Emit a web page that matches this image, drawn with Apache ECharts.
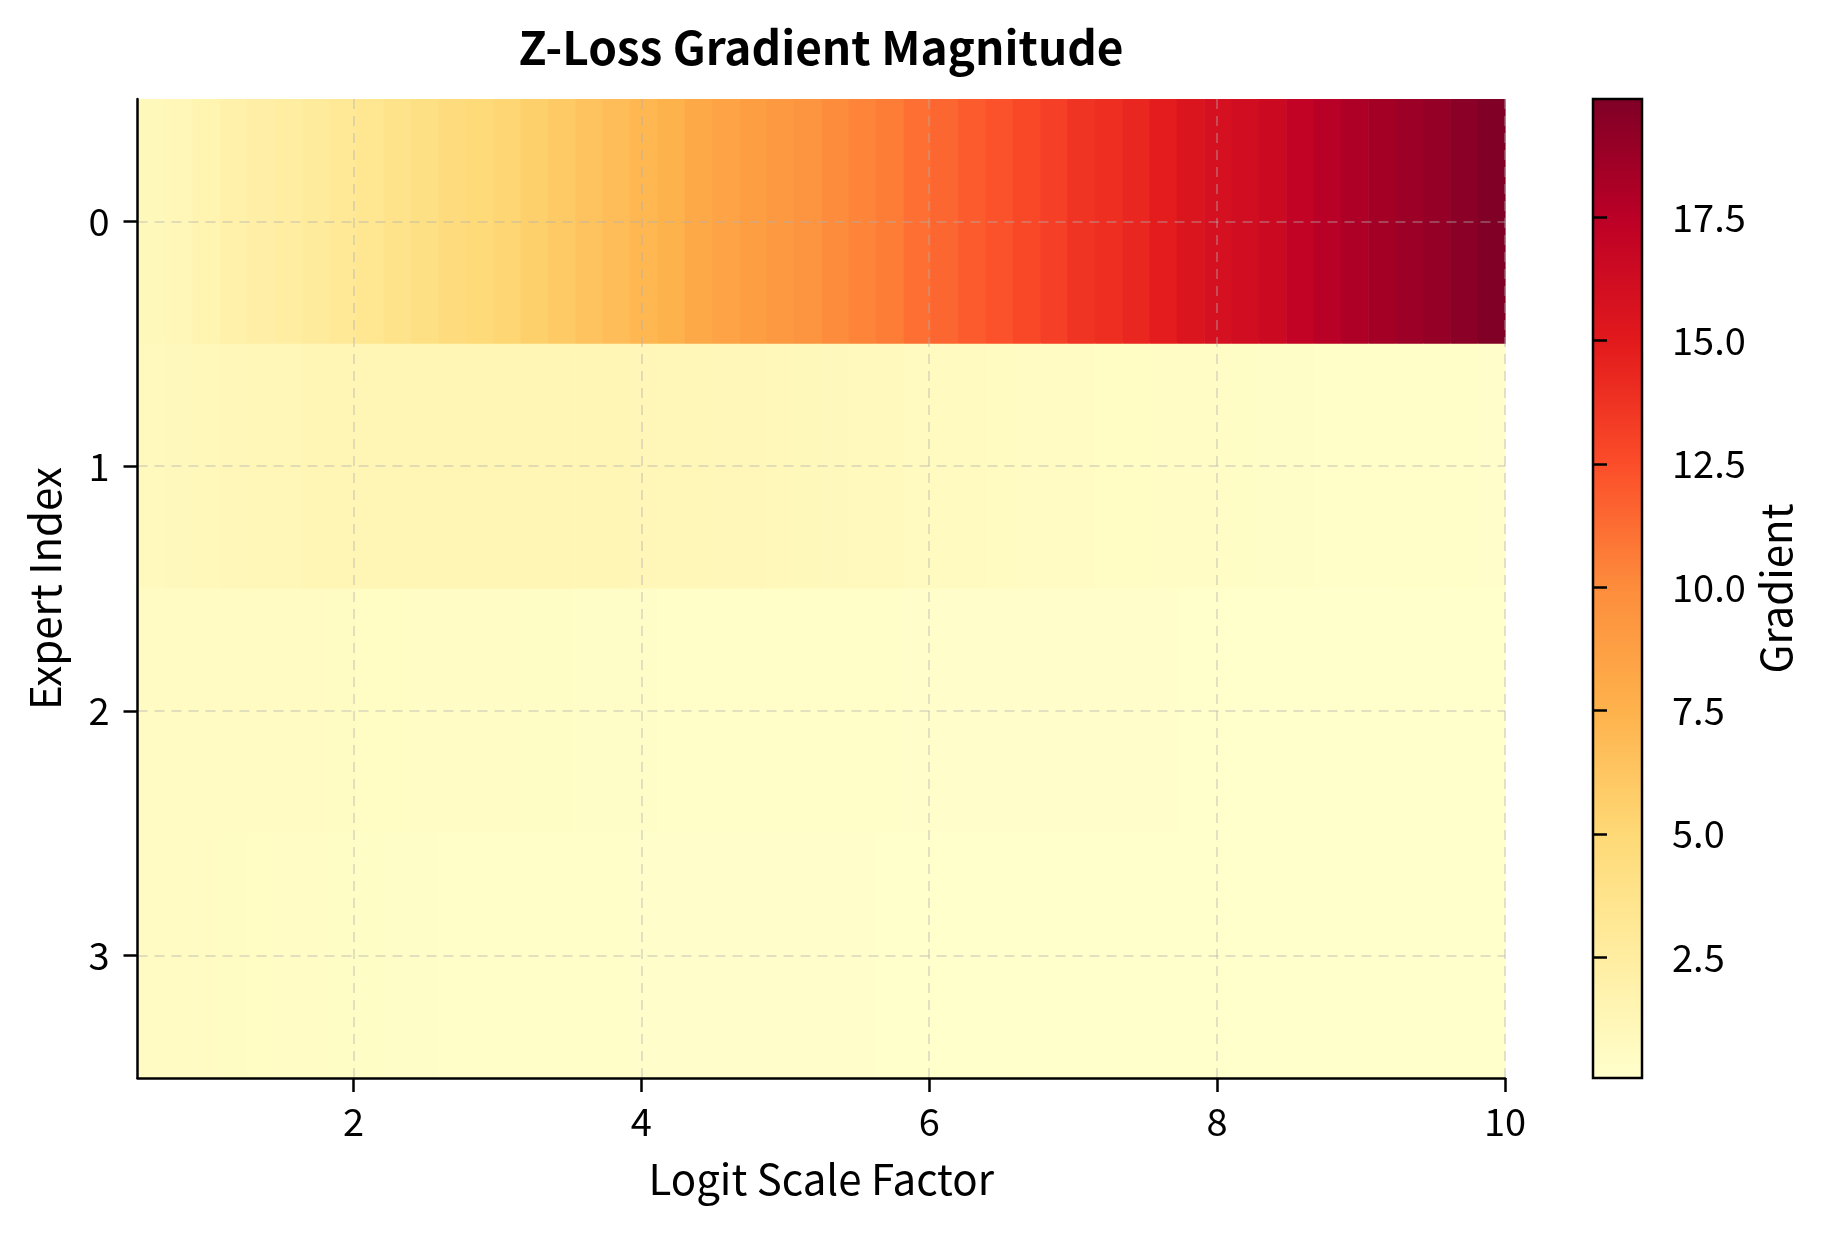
<!DOCTYPE html>
<html>
<head>
<meta charset="utf-8">
<title>Z-Loss Gradient Magnitude</title>
<script src="https://cdn.jsdelivr.net/npm/echarts@6/dist/echarts.min.js"></script>
<style>
  html, body { margin: 0; padding: 0; background: #fff; }
  #main { width: 1831px; height: 1234px; }
</style>
</head>
<body>
<div id="main"></div>
<script>
//---------------------------------= data =---------------------------------
var scaleExtent = [0.5, 10];          // logit scale factor, left and right edge of the image
var expertIndex = [0, 1, 2, 3];
var xTicks = [2, 4, 6, 8, 10];
var cbarTicks = [2.5, 5, 7.5, 10, 12.5, 15, 17.5];
var colorRange = [0.05, 19.9];

// one value per column (50 columns) for every expert
var expert0 = [1.02, 1.18, 1.62, 2.02, 2.22, 2.41, 2.75, 3.11, 3.41, 3.77,
               4.16, 4.58, 4.88, 5.18, 5.59, 5.99, 6.39, 6.77, 7.18, 7.48,
               8.08, 8.42, 8.83, 9.15, 9.49, 9.97, 10.32, 10.6, 11.16, 11.5,
               11.93, 12.29, 12.73, 13.16, 13.69, 13.98, 14.36, 14.83, 15.45, 15.85,
               16.15, 16.5, 17.1, 17.6, 18.03, 18.43, 18.77, 19.09, 19.44, 19.9];
var expert1 = [0.85, 0.98, 1.06, 1.12, 1.17, 1.22, 1.27, 1.31, 1.34, 1.37,
               1.39, 1.40, 1.40, 1.39, 1.38, 1.36, 1.33, 1.30, 1.26, 1.22,
               1.18, 1.13, 1.09, 1.04, 1.00, 0.95, 0.90, 0.85, 0.80, 0.76,
               0.71, 0.67, 0.63, 0.59, 0.56, 0.52, 0.49, 0.46, 0.43, 0.40,
               0.37, 0.34, 0.32, 0.30, 0.28, 0.26, 0.24, 0.22, 0.20, 0.19];
var expert2 = [0.62, 0.64, 0.64, 0.63, 0.58, 0.57, 0.55, 0.53, 0.51, 0.49,
               0.47, 0.46, 0.44, 0.40, 0.39, 0.37, 0.35, 0.33, 0.32, 0.30,
               0.29, 0.27, 0.26, 0.25, 0.24, 0.22, 0.21, 0.20, 0.19, 0.18,
               0.17, 0.16, 0.15, 0.14, 0.14, 0.13, 0.12, 0.12, 0.11, 0.11,
               0.10, 0.10, 0.09, 0.09, 0.09, 0.08, 0.08, 0.08, 0.07, 0.07];
var expert3 = [0.55, 0.55, 0.54, 0.53, 0.52, 0.44, 0.42, 0.39, 0.37, 0.35,
               0.33, 0.30, 0.28, 0.26, 0.24, 0.23, 0.21, 0.20, 0.19, 0.18,
               0.17, 0.16, 0.15, 0.14, 0.13, 0.12, 0.12, 0.11, 0.10, 0.10,
               0.09, 0.09, 0.08, 0.08, 0.08, 0.07, 0.07, 0.07, 0.06, 0.06,
               0.06, 0.06, 0.05, 0.05, 0.05, 0.05, 0.05, 0.05, 0.05, 0.05];

// YlOrRd
var ylOrRd = ['#ffffcc', '#ffeda0', '#fed976', '#feb24c', '#fd8d3c',
              '#fc4e2a', '#e31a1c', '#bd0026', '#800026'];

//---------------------------------= build cells =---------------------------------
var rows = [expert0, expert1, expert2, expert3];
var nCols = expert0.length;
var step = (scaleExtent[1] - scaleExtent[0]) / nCols;
var cells = [];
expertIndex.forEach(function (r) {
  rows[r].forEach(function (v, i) {
    var x0 = scaleExtent[0] + i * step;
    cells.push([x0, x0 + step, r, v]);
  });
});

var font = 'Noto Sans CJK SC';
var grid0 = { left: 137.5, top: 99, width: 1367.5, height: 979 };
var grid1 = { left: 1593, top: 99, width: 49, height: 979 };

function renderCell(params, api) {
  var p0 = api.coord([api.value(0), api.value(2) - 0.5]);
  var p1 = api.coord([api.value(1), api.value(2) + 0.5]);
  return {
    type: 'rect',
    shape: {
      x: Math.min(p0[0], p1[0]),
      y: Math.min(p0[1], p1[1]),
      width: Math.abs(p1[0] - p0[0]) + 0.6,
      height: Math.abs(p1[1] - p0[1]) + 0.6
    },
    style: { fill: api.visual('color') }
  };
}

function renderColorbar(params, api) {
  var p0 = api.coord([0, api.value(2)]);
  var p1 = api.coord([1, api.value(3)]);
  var shape = { x: p0[0], y: p1[1], width: p1[0] - p0[0], height: p0[1] - p1[1] };
  var stops = ylOrRd.map(function (c, i) { return { offset: i / (ylOrRd.length - 1), color: c }; });
  return {
    type: 'group',
    children: [
      { type: 'rect', shape: shape, style: { fill: new echarts.graphic.LinearGradient(0, 1, 0, 0, stops) } },
      { type: 'rect', shape: shape, style: { fill: 'none', stroke: '#000', lineWidth: 2.5 } }
    ]
  };
}

var chart = echarts.init(document.getElementById('main'));
var gridLine = { show: true, lineStyle: { color: 'rgba(176,176,176,0.38)', width: 2, type: [10, 7] } };

var option = {
  animation: false,
  backgroundColor: '#fff',
  textStyle: { fontFamily: font, color: '#000' },
  graphic: [{
    type: 'text', x: 821, y: 48,
    style: { text: 'Z-Loss Gradient Magnitude', fontFamily: font, fontSize: 46, fontWeight: 'bold',
             fill: '#000', align: 'center', verticalAlign: 'middle' }
  }],
  grid: [
    Object.assign({ outerBoundsMode: 'none' }, grid0),
    Object.assign({ outerBoundsMode: 'none' }, grid1)
  ],
  visualMap: {
    type: 'continuous', show: false, seriesIndex: 0, dimension: 3,
    min: colorRange[0], max: colorRange[1],
    inRange: { color: ylOrRd }
  },
  xAxis: [{
    gridIndex: 0, type: 'value', min: scaleExtent[0], max: scaleExtent[1], z: 5,
    name: 'Logit Scale Factor', nameLocation: 'middle', nameGap: 80, nameMoveOverlap: false,
    nameTextStyle: { fontSize: 42, fontFamily: font, color: '#000' },
    axisLine: { show: true, onZero: false, lineStyle: { color: '#000', width: 2.5 } },
    axisTick: { show: true, customValues: xTicks, length: 14, lineStyle: { color: '#000', width: 2.5 } },
    axisLabel: { customValues: xTicks, fontSize: 38, margin: 25, color: '#000', fontFamily: font },
    splitLine: gridLine
  }, {
    gridIndex: 1, type: 'value', min: 0, max: 1, show: false
  }],
  yAxis: [{
    gridIndex: 0, type: 'value', min: -0.5, max: 3.5, inverse: true, z: 5,
    name: 'Expert Index', nameLocation: 'middle', nameGap: 71, nameMoveOverlap: false,
    nameTextStyle: { fontSize: 42, fontFamily: font, color: '#000' },
    axisLine: { show: true, onZero: false, lineStyle: { color: '#000', width: 2.5 } },
    axisTick: { show: true, customValues: expertIndex, length: 14, lineStyle: { color: '#000', width: 2.5 } },
    axisLabel: { customValues: expertIndex, fontSize: 38, margin: 28, color: '#000', fontFamily: font },
    splitLine: gridLine
  }, {
    gridIndex: 1, type: 'value', position: 'right', min: colorRange[0], max: colorRange[1], z: 5,
    name: 'Gradient', nameLocation: 'middle', nameRotate: 90, nameGap: 113, nameMoveOverlap: false,
    nameTextStyle: { fontSize: 42, fontFamily: font, color: '#000' },
    axisLine: { show: false },
    axisTick: { show: true, customValues: cbarTicks, length: 14, lineStyle: { color: '#000', width: 2.5 } },
    axisLabel: { customValues: cbarTicks, fontSize: 38, margin: 30, color: '#000', fontFamily: font,
                 formatter: function (v) { return v.toFixed(1); } },
    splitLine: { show: false }
  }],
  series: [{
    type: 'custom', xAxisIndex: 0, yAxisIndex: 0, clip: true,
    renderItem: renderCell, data: cells
  }, {
    type: 'custom', xAxisIndex: 1, yAxisIndex: 1,
    renderItem: renderColorbar, data: [[0, 1, colorRange[0], colorRange[1]]]
  }]
};

chart.setOption(option);
</script>
</body>
</html>
